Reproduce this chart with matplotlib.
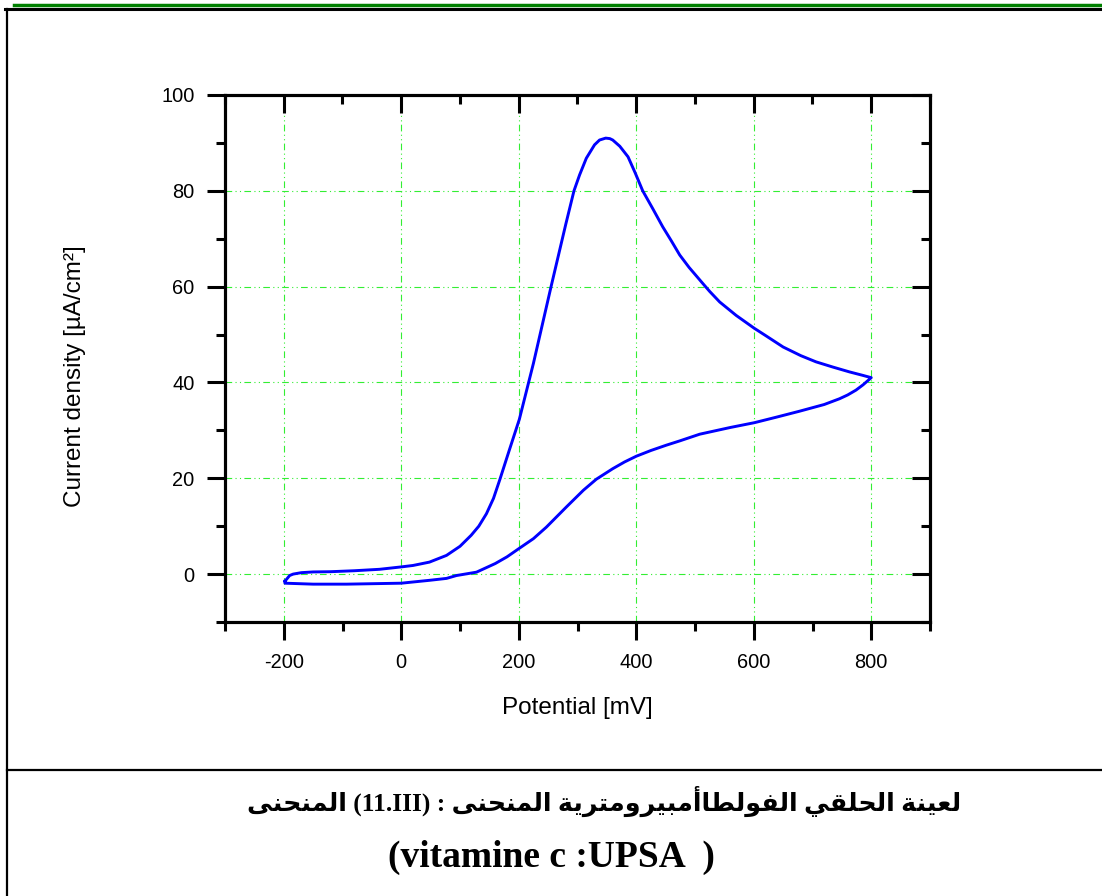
import matplotlib

matplotlib.use("Agg")

import matplotlib.pyplot as plt
from matplotlib.lines import Line2D

# anodic scan, -200 -> 800 mV (with the oxidation peak)
fwd_E = [-198, -190, -184, -170, -150, -120, -80, -37, 0, 20, 48, 77, 100, 119,
         132, 145, 157, 168, 184, 201, 225, 255, 280, 294, 303.5, 315, 329,
         337.5, 348, 355, 360, 372, 386, 398, 411, 428, 445, 460, 474, 490, 513,
         525, 542, 570, 601, 620, 650, 680, 706, 735, 763, 785, 800]
fwd_j = [-1.5, -0.3, 0.0, 0.3, 0.45, 0.5, 0.7, 1.0, 1.5, 1.8, 2.5, 3.9, 5.8, 8.1,
         10.0, 12.6, 15.8, 19.8, 25.9, 32.3, 44.0, 60.0, 73.0, 80.0, 83.3, 86.8,
         89.6, 90.6, 91.0, 90.9, 90.6, 89.3, 87.1, 83.8, 80.0, 76.3, 72.5, 69.5,
         66.6, 64.0, 60.7, 59.0, 56.8, 54.0, 51.3, 49.8, 47.4, 45.6, 44.3, 43.2,
         42.2, 41.5, 41.0]
# reverse scan, 800 -> -200 mV
rev_E = [800, 786, 774, 760, 746, 720, 678, 640, 601, 560, 508, 474, 451, 425,
         400, 380, 360, 332, 310, 281, 247, 225, 200, 180, 160, 128, 94, 77, 48,
         0, -93, -150, -198, -198]
rev_j = [41.0, 39.5, 38.4, 37.4, 36.6, 35.4, 34.0, 32.8, 31.6, 30.6, 29.2, 27.8,
         26.9, 25.8, 24.6, 23.4, 22.0, 19.8, 17.5, 14.0, 9.8, 7.4, 5.3, 3.6, 2.2,
         0.4, -0.3, -0.9, -1.3, -1.9, -2.1, -2.1, -1.9, -1.5]

x_major = [-200, 0, 200, 400, 600, 800]
x_minor = [-300, -100, 100, 300, 500, 700, 900]
y_major = [0, 20, 40, 60, 80, 100]
y_minor = [-10, 10, 30, 50, 70, 90]

# caption words in the left-to-right order they appear on the page
caption_words = ["المنحنى", "(11.III)", ":", "المنحنى", "الفولطاأمبيرومترية",
                 "الحلقي", "لعينة"]
caption_line2 = "(vitamine c :UPSA  )"

# contextual forms: isolated, final, initial, medial
FORMS = {
    "ا": ("\uFE8D", "\uFE8E", None, None),
    "أ": ("\uFE83", "\uFE84", None, None),
    "ب": ("\uFE8F", "\uFE90", "\uFE91", "\uFE92"),
    "ة": ("\uFE93", "\uFE94", None, None),
    "ت": ("\uFE95", "\uFE96", "\uFE97", "\uFE98"),
    "ح": ("\uFEA1", "\uFEA2", "\uFEA3", "\uFEA4"),
    "ر": ("\uFEAD", "\uFEAE", None, None),
    "ط": ("\uFEC1", "\uFEC2", "\uFEC3", "\uFEC4"),
    "ع": ("\uFEC9", "\uFECA", "\uFECB", "\uFECC"),
    "ف": ("\uFED1", "\uFED2", "\uFED3", "\uFED4"),
    "ق": ("\uFED5", "\uFED6", "\uFED7", "\uFED8"),
    "ل": ("\uFEDD", "\uFEDE", "\uFEDF", "\uFEE0"),
    "م": ("\uFEE1", "\uFEE2", "\uFEE3", "\uFEE4"),
    "ن": ("\uFEE5", "\uFEE6", "\uFEE7", "\uFEE8"),
    "و": ("\uFEED", "\uFEEE", None, None),
    "ى": ("\uFEEF", "\uFEF0", None, None),
    "ي": ("\uFEF1", "\uFEF2", "\uFEF3", "\uFEF4"),
}


def shape(word):
    """Poor man's Arabic shaping: pick joined forms, then reverse for LTR drawing."""
    if not any(ch in FORMS for ch in word):
        return word
    out = []
    for i, ch in enumerate(word):
        forms = FORMS.get(ch)
        if forms is None:
            out.append(ch)
            continue
        prev = word[i - 1] if i > 0 else None
        nxt = word[i + 1] if i < len(word) - 1 else None
        j_prev = prev in FORMS and FORMS[prev][2] is not None
        j_next = nxt in FORMS and forms[2] is not None
        if j_prev and j_next:
            out.append(forms[3])
        elif j_prev:
            out.append(forms[1])
        elif j_next:
            out.append(forms[2])
        else:
            out.append(forms[0])
    return "".join(reversed(out))


plt.rcParams["font.family"] = ["Liberation Sans", "DejaVu Sans"]

W, H = 1102, 896
fig = plt.figure(figsize=(W / 100, H / 100), dpi=100)
ax = fig.add_axes([225 / W, 1 - 622 / H, 705 / W, 527 / H])

ax.plot(fwd_E + rev_E, fwd_j + rev_j, color="#0000ff", lw=2.1, zorder=3,
        solid_joinstyle="round")

ax.set_xlim(-300, 900)
ax.set_ylim(-10, 100)
ax.set_xticks(x_major)
ax.set_xticks(x_minor, minor=True)
ax.set_yticks(y_major)
ax.set_yticks(y_minor, minor=True)
ax.set_xticklabels([str(v) for v in x_major])
ax.set_yticklabels([str(v) for v in y_major])
ax.grid(True, which="major", color="#33ee33", lw=0.8, ls=(0, (6, 3, 1, 3, 1, 3)))

for s in ax.spines.values():
    s.set_linewidth(2.2)
ax.tick_params(which="major", direction="out", length=13, width=2.2,
               labelsize=14.4, pad=9)
ax.tick_params(which="minor", direction="out", length=6.5, width=2.2)

# mirrored inward ticks on top and right
axr = ax.twinx()
axr.set_ylim(ax.get_ylim())
axr.set_yticks(y_major)
axr.set_yticks(y_minor, minor=True)
axr.tick_params(which="major", direction="in", length=13, width=2.2, labelright=False)
axr.tick_params(which="minor", direction="in", length=6.5, width=2.2)
axt = ax.twiny()
axt.set_xlim(ax.get_xlim())
axt.set_xticks(x_major)
axt.set_xticks(x_minor, minor=True)
axt.tick_params(which="major", direction="in", length=13, width=2.2, labeltop=False)
axt.tick_params(which="minor", direction="in", length=6.5, width=2.2)
for a in (axr, axt):
    for s in a.spines.values():
        s.set_linewidth(2.2)

fig.text(75 / W, 1 - 376 / H, "Current density [µA/cm²]", rotation=90,
         ha="center", va="center", fontsize=17.5)
fig.text(577 / W, 1 - 708 / H, "Potential [mV]", ha="center", va="center",
         fontsize=17.5)

# page frame around the figure
fig.add_artist(Line2D([14 / W, 1], [1 - 5 / H, 1 - 5 / H], color="#008000", lw=2.5))
fig.add_artist(Line2D([5 / W, 1], [1 - 9.5 / H, 1 - 9.5 / H], color="black", lw=2.2))
fig.add_artist(Line2D([7 / W, 7 / W], [0, 1 - 9 / H], color="black", lw=1.6))
fig.add_artist(Line2D([7 / W, 1], [1 - 770 / H, 1 - 770 / H], color="black", lw=1.6))

cap_family = ["Liberation Serif", "DejaVu Sans"]
line1 = " ".join(shape(w) for w in caption_words)
fig.text(604 / W, 1 - 801 / H, line1, ha="center", va="center", fontsize=18.3,
         fontweight="bold", family=cap_family)
fig.text(551 / W, 1 - 857 / H, caption_line2, ha="center", va="center",
         fontsize=27, fontweight="bold", family=cap_family)

fig.savefig("out.png", dpi=100)
